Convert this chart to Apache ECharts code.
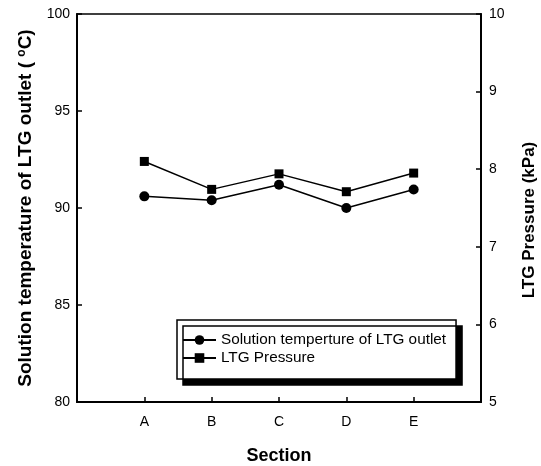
<!DOCTYPE html>
<html>
<head>
<meta charset="utf-8">
<script src="https://cdn.jsdelivr.net/npm/echarts@6/dist/echarts.min.js"></script>
<style>html,body{margin:0;padding:0;background:#fff}#c{width:541px;height:466px}</style>
</head>
<body>
<div id="c"></div>
<script>
const categories = ['', 'A', 'B', 'C', 'D', 'E', ''];
const sections = ['A', 'B', 'C', 'D', 'E'];
const solutionTemp = [90.6, 90.4, 91.2, 90.0, 90.95];
const ltgPressure = [8.1, 7.74, 7.94, 7.71, 7.95];
const leftTicks = {min: 80, max: 100, interval: 5};
const rightTicks = {min: 5, max: 10, interval: 1};

const FONT = '"Liberation Sans", Arial, sans-serif';
const chart = echarts.init(document.getElementById('c'), null, {renderer: 'canvas'});
chart.setOption({
  animation: false,
  backgroundColor: '#fff',
  grid: {left: 77, right: 60, top: 14, bottom: 64, containLabel: false, outerBoundsMode: 'none',
    show: true, borderColor: '#000', borderWidth: 1.5, backgroundColor: 'transparent'},
  legend: {
    orient: 'vertical', left: 177, top: 320,
    padding: [12, 10, 13, 5],
    itemWidth: 33, itemHeight: 12, itemGap: 2,
    backgroundColor: '#fff', borderColor: '#000', borderWidth: 1.5,
    shadowColor: '#000', shadowBlur: 0, shadowOffsetX: 6, shadowOffsetY: 6,
    textStyle: {fontFamily: FONT, fontSize: 15.3, color: '#000', lineHeight: 16},
    data: ['Solution temperture of LTG outlet', 'LTG Pressure']
  },
  xAxis: {
    type: 'category', data: categories, boundaryGap: false,
    name: 'Section', nameLocation: 'middle', nameGap: 45,
    nameTextStyle: {fontFamily: FONT, fontSize: 18, fontWeight: 'bold', color: '#000'},
    axisLine: {lineStyle: {color: '#000', width: 2}},
    axisTick: {inside: true, length: 5, lineStyle: {color: '#000', width: 1.5}, interval: (i, v) => v !== ''},
    axisLabel: {interval: 0, margin: 13, fontFamily: FONT, fontSize: 14, color: '#000'},
    splitLine: {show: false}
  },
  yAxis: [{
    type: 'value', min: leftTicks.min, max: leftTicks.max, interval: leftTicks.interval, position: 'left',
    name: 'Solution temperature of LTG outlet ( {sup|o}C)', nameLocation: 'middle', nameGap: 42,
    nameTextStyle: {fontFamily: FONT, fontSize: 19, fontWeight: 'bold', color: '#000',
      rich: {sup: {fontFamily: FONT, fontSize: 12, fontWeight: 'bold', color: '#000', verticalAlign: 'top'}}},
    axisLine: {show: true, lineStyle: {color: '#000', width: 2}},
    axisTick: {show: true, inside: true, length: 5, lineStyle: {color: '#000', width: 1.5}},
    axisLabel: {margin: 7, fontFamily: FONT, fontSize: 14, color: '#000'},
    splitLine: {show: false}
  }, {
    type: 'value', min: rightTicks.min, max: rightTicks.max, interval: rightTicks.interval, position: 'right',
    name: 'LTG Pressure (kPa)', nameLocation: 'middle', nameGap: 40,
    nameTextStyle: {fontFamily: FONT, fontSize: 17, fontWeight: 'bold', color: '#000', padding: [0, 24, 0, 0]},
    axisLine: {show: true, lineStyle: {color: '#000', width: 2}},
    axisTick: {show: true, inside: true, length: 5, lineStyle: {color: '#000', width: 1.5}},
    axisLabel: {margin: 8, fontFamily: FONT, fontSize: 14, color: '#000'},
    splitLine: {show: false}
  }],
  series: [{
    name: 'Solution temperture of LTG outlet', type: 'line', yAxisIndex: 0,
    data: sections.map((s, i) => [s, solutionTemp[i]]),
    symbol: 'circle', symbolSize: 10,
    lineStyle: {color: '#000', width: 1.5}, itemStyle: {color: '#000'}
  }, {
    name: 'LTG Pressure', type: 'line', yAxisIndex: 1,
    data: sections.map((s, i) => [s, ltgPressure[i]]),
    symbol: 'rect', symbolSize: 9,
    lineStyle: {color: '#000', width: 1.5}, itemStyle: {color: '#000'}
  }]
});
</script>
</body>
</html>
